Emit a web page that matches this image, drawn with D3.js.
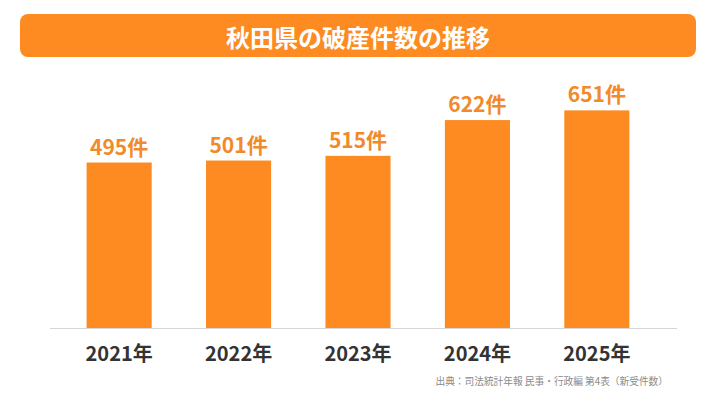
<!DOCTYPE html>
<html>
<head>
<meta charset="utf-8">
<script src="https://cdn.jsdelivr.net/npm/d3@7"></script>
<style>
    body { margin: 0; background: #fff; }
    text { font-family: "Noto Sans CJK JP", "Noto Sans", sans-serif; }
</style>
</head>
<body>
<div id="chart"></div>
<script>
// data
let years = ["2021年", "2022年", "2023年", "2024年", "2025年"];
let counts = [495, 501, 515, 622, 651];
let unit = "件";
let title = "秋田県の破産件数の推移";
let source = "出典：司法統計年報 民事・行政編 第4表（新受件数）";

let width = 716, height = 403;
let barColor = "#fd8b21";
let labelColor = "#f08a2a";

let svg = d3.select("#chart").append("svg")
    .attr("width", width)
    .attr("height", height);

// title bar
svg.append("rect")
    .attr("x", 20)
    .attr("y", 14)
    .attr("width", 676)
    .attr("height", 43)
    .attr("rx", 8)
    .style("fill", barColor);

svg.append("text")
    .attr("x", 358)
    .attr("y", 36)
    .attr("text-anchor", "middle")
    .attr("dominant-baseline", "central")
    .style("font-size", "24px")
    .style("font-weight", "bold")
    .style("fill", "#fff")
    .text(title);

// scales
let x = d3.scaleBand()
    .domain(years)
    .range([46, 670])
    .paddingInner(0.455)
    .paddingOuter(0.34);

let y = d3.scaleLinear()
    .domain([0, 700])
    .range([328, 94]);

// bars
svg.selectAll(".bar")
    .data(counts)
    .enter()
    .append("rect")
    .attr("class", "bar")
    .attr("x", (d, i) => x(years[i]))
    .attr("y", d => y(d))
    .attr("width", x.bandwidth())
    .attr("height", d => y(0) - y(d))
    .style("fill", barColor);

// value labels
svg.selectAll(".value")
    .data(counts)
    .enter()
    .append("text")
    .attr("class", "value")
    .attr("x", (d, i) => x(years[i]) + x.bandwidth() / 2)
    .attr("y", d => y(d) - 8)
    .attr("text-anchor", "middle")
    .style("font-size", "21px")
    .style("font-weight", "bold")
    .style("fill", labelColor)
    .text(d => d + unit);

// baseline
svg.append("line")
    .attr("x1", 50)
    .attr("x2", 677)
    .attr("y1", y(0) + 0.5)
    .attr("y2", y(0) + 0.5)
    .style("stroke", "#d6d6d6")
    .style("stroke-width", 1);

// year labels
let xAxis = svg.append("g")
    .attr("transform", "translate(0," + y(0) + ")")
    .call(d3.axisBottom(x).tickSize(0).tickPadding(0));

xAxis.select(".domain").remove();
xAxis.selectAll("text")
    .attr("dy", null)
    .attr("y", 33)
    .style("font-family", '"Noto Sans CJK JP", sans-serif')
    .style("font-size", "20px")
    .style("font-weight", "bold")
    .style("fill", "#333");

// source note
svg.append("text")
    .attr("x", 668)
    .attr("y", 385)
    .attr("text-anchor", "end")
    .style("font-size", "9.7px")
    .style("fill", "#8a8a8a")
    .text(source);
</script>
</body>
</html>
